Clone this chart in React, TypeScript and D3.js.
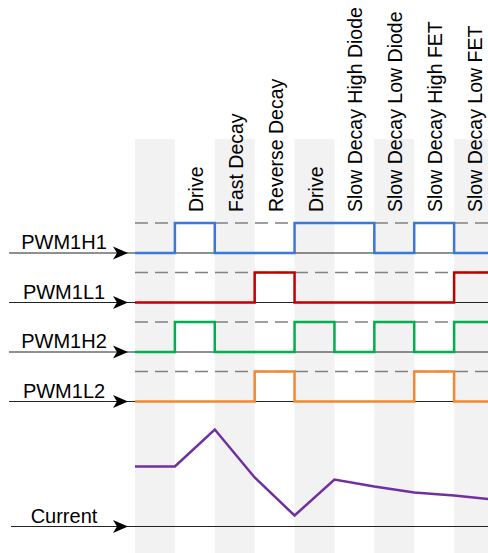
import * as d3 from "d3";
import { useEffect, useRef } from "react";

const phases = [
  "",
  "Drive",
  "Fast Decay",
  "Reverse Decay",
  "Drive",
  "Slow Decay High Diode",
  "Slow Decay Low Diode",
  "Slow Decay High FET",
  "Slow Decay Low FET",
];

const signalNames = ["PWM1H1", "PWM1L1", "PWM1H2", "PWM1L2"];
const pwm1h1 = [0, 1, 0, 0, 1, 1, 0, 1, 0];
const pwm1l1 = [0, 0, 0, 1, 0, 0, 0, 0, 1];
const pwm1h2 = [0, 1, 0, 0, 1, 0, 1, 0, 1];
const pwm1l2 = [0, 0, 0, 1, 0, 0, 0, 1, 0];
const signalColors = ["#3b78d8", "#c00000", "#00b050", "#f4882f"];

// current at each phase boundary (arbitrary units, 0 = axis)
const current = [60, 60, 97, 49, 11, 47, 40, 34, 31, 27];

export default function App() {
  const ref = useRef<SVGSVGElement | null>(null);

  useEffect(() => {
    if (!ref.current) return;
    const W = 488;
    const H = 553;
    const svg = d3.select(ref.current);
    svg.selectAll("*").remove();

    const font = "'Liberation Sans', Arial, sans-serif";
    const x = d3.scaleLinear().domain([0, phases.length]).range([135, 494]);
    const row = d3.scalePoint<string>().domain(signalNames).range([253, 401.5]);
    const level = d3.scaleLinear().domain([0, 1]).range([0, -30]);
    const yCur = d3.scaleLinear().domain([0, 100]).range([526.5, 426.5]);

    // alternating shaded phase bands
    svg
      .append("g")
      .selectAll("rect")
      .data(phases.map((p, i) => ({ p, i })).filter((d) => d.i % 2 === 0))
      .join("rect")
      .attr("x", (d) => x(d.i))
      .attr("y", 139)
      .attr("width", x(1) - x(0))
      .attr("height", H - 139)
      .attr("fill", "#f2f2f2");

    // phase labels
    svg
      .append("g")
      .selectAll("text")
      .data(phases.map((p, i) => ({ p, i })).filter((d) => d.p))
      .join("text")
      .attr("transform", (d) => `translate(${x(d.i + 0.5) + 1},212) rotate(-90)`)
      .attr("dominant-baseline", "central")
      .style("font-family", font)
      .style("font-size", "19.5px")
      .attr("fill", "#000")
      .text((d) => d.p);

    const arrow = (g: d3.Selection<SVGGElement, unknown, null, undefined>, y: number, x0: number, label: string) => {
      g.append("line")
        .attr("x1", x0)
        .attr("x2", W)
        .attr("y1", y)
        .attr("y2", y)
        .attr("stroke", "#222")
        .attr("stroke-width", 1.2);
      g.append("path")
        .attr("d", `M128,${y} L113,${y - 6.5} L117,${y} L113,${y + 6.5} Z`)
        .attr("fill", "#000");
      g.append("text")
        .attr("x", 64)
        .attr("y", y - 4)
        .attr("text-anchor", "middle")
        .style("font-family", font)
        .style("font-size", "20px")
        .attr("fill", "#000")
        .text(label);
    };

    const series = [pwm1h1, pwm1l1, pwm1h2, pwm1l2];
    const gSig = svg.append("g");
    signalNames.forEach((name, k) => {
      const base = row(name) ?? 0;
      gSig
        .append("line")
        .attr("x1", x(0))
        .attr("x2", W)
        .attr("y1", base + level(1))
        .attr("y2", base + level(1))
        .attr("stroke", "#808080")
        .attr("stroke-width", 1.5)
        .attr("stroke-dasharray", "13,7");
      arrow(gSig, base, 9, name);
      const vals = series[k];
      const pts: [number, number][] = vals.map((v, i) => [i, v]);
      pts.push([vals.length, vals[vals.length - 1]]);
      const line = d3
        .line<[number, number]>()
        .x((d) => x(d[0]))
        .y((d) => base + level(d[1]))
        .curve(d3.curveStepAfter);
      gSig
        .append("path")
        .attr("d", line(pts))
        .attr("fill", "none")
        .attr("stroke", signalColors[k])
        .attr("stroke-width", 2.5);
    });

    const gCur = svg.append("g");
    arrow(gCur, yCur(0), 11, "Current");
    const curLine = d3
      .line<number>()
      .x((_d, i) => x(i))
      .y((d) => yCur(d));
    gCur
      .append("path")
      .attr("d", curLine(current))
      .attr("fill", "none")
      .attr("stroke", "#7030a0")
      .attr("stroke-width", 2.5);
  }, []);

  return (
    <svg
      ref={ref}
      width={488}
      height={553}
      style={{ position: "absolute", left: 0, top: 0, background: "#fff" }}
    />
  );
}
